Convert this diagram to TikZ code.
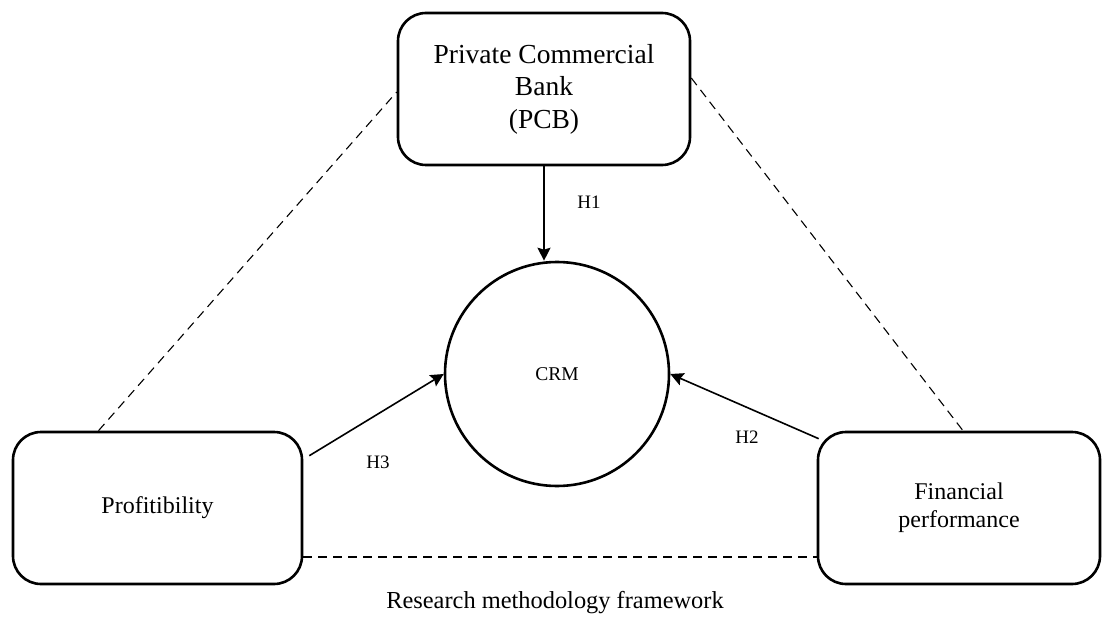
\documentclass[tikz,border=0pt]{standalone}
\usepackage{fontspec}
\setmainfont{Liberation Serif}
\usepackage{tikz}
\usetikzlibrary{arrows.meta, positioning, calc}
\tikzset{
  basebox/.style={rectangle,rounded corners=28pt,draw=black,line width=2.6pt,align=center},
  topbox/.style={basebox,minimum width=292pt,minimum height=152pt,font=\fontsize{27.5}{32.5}\selectfont},
  sidebox/.style={basebox,minimum height=152pt,font=\fontsize{24}{28}\selectfont},
  crmnode/.style={circle,draw=black,line width=2.6pt,minimum size=224pt,inner sep=0pt,font=\fontsize{19.5}{22}\selectfont},
  hlabel/.style={inner sep=0pt,font=\fontsize{19}{22}\selectfont},
  arr/.style={-{Stealth[length=13pt,width=13pt,inset=2pt]},line width=1.6pt},
  dasharr/.style={line width=1.1pt,dash pattern=on 9pt off 6pt}
}
\begin{document}
\begin{tikzpicture}[x=1pt,y=-1pt]
  \useasboundingbox (0,0) rectangle (1102,620);

  \node[topbox] (pcb) at (544,89) {Private Commercial\\Bank\\(PCB)};
  \node[crmnode] (crm) at (557,374) {CRM};
  \node[sidebox,minimum width=289pt] (prof) at (157.5,508) {Profitibility};
  \node[sidebox,minimum width=282pt] (fin) at (959,508) {Financial\\performance};

  % hypotheses
  \draw[arr] (pcb.south) -- (pcb.south |- crm.north);
  \draw[arr] ([xshift=6pt,yshift=-25pt]prof.north east) -- (crm.west);
  \draw[arr] ([xshift=2pt,yshift=-8pt]fin.north west) -- (crm.east);

  \node[hlabel] (h1) at (589,202) {H1};
  \node[hlabel] (h3) at (378,462) {H3};
  \node[hlabel] (h2) at (747,437) {H2};

  % triangle links
  \draw[dasharr] ([xshift=-59pt]prof.north) -- ([yshift=-3pt]pcb.west);
  \draw[dasharr] ([yshift=11pt]pcb.east) -- ([xshift=4pt]fin.north);
  \draw[dasharr] ([yshift=-49pt]prof.east) -- ([yshift=-49pt]fin.west);

  \node[font=\fontsize{24.4}{28}\selectfont] (cap) at (555,603) {Research methodology framework};
\end{tikzpicture}
\end{document}
